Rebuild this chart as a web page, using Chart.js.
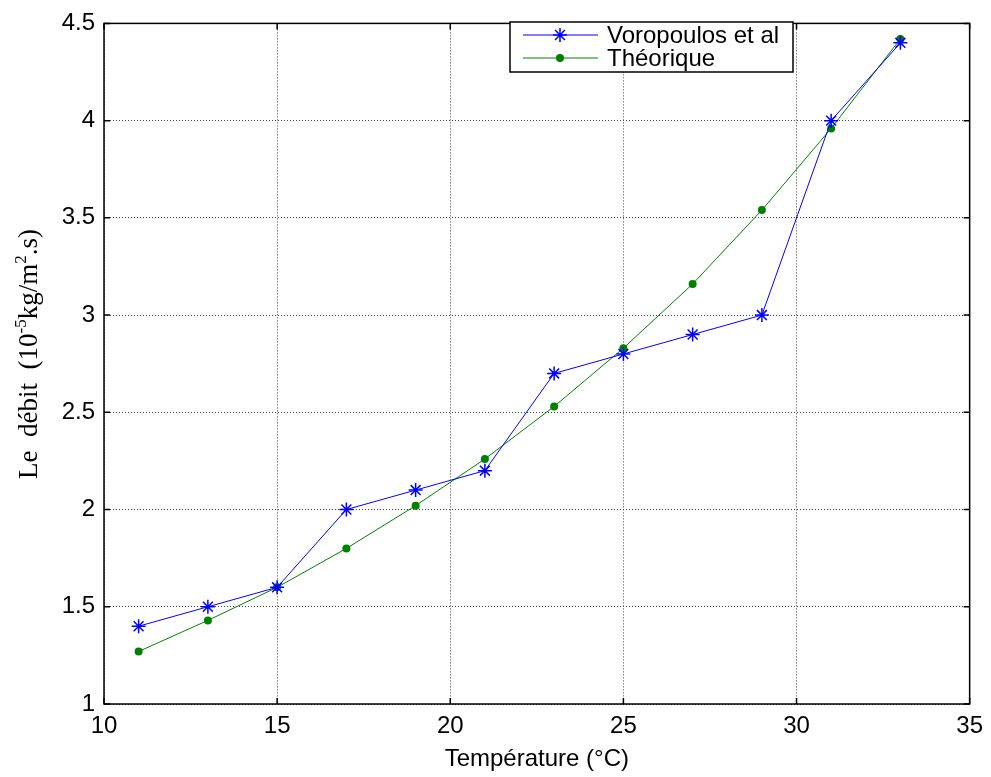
<!DOCTYPE html>
<html><head><meta charset="utf-8">
<script src="https://cdn.jsdelivr.net/npm/chart.js@4/dist/chart.umd.min.js"></script>
<style>html,body{margin:0;padding:0;background:#fff;}canvas{display:block}</style>
</head><body>
<canvas id="c" width="991" height="777"></canvas>
<script>
const temperatures = [11, 13, 15, 17, 19, 21, 23, 25, 27, 29, 31, 33];
const voropoulos = [1.4, 1.5, 1.6, 2.0, 2.1, 2.2, 2.7, 2.8, 2.9, 3.0, 4.0, 4.4];
const theorique = [1.27, 1.43, 1.60, 1.80, 2.02, 2.26, 2.53, 2.83, 3.16, 3.54, 3.96, 4.42];
const xTicks = [10, 15, 20, 25, 30, 35];
const yTicks = [1, 1.5, 2, 2.5, 3, 3.5, 4, 4.5];
const seriesLabels = ['Voropoulos et al', 'Théorique'];
const xTitle = 'Température (°C)';
const yTitleParts = [['Le  débit  (10', false], ['-5', true], ['kg/m', false], ['2', true], ['.s)', false]];

const SANS = '"Liberation Sans", Arial, sans-serif';
const SERIF = '"Liberation Serif", "Times New Roman", serif';

const framePlugin = {
  id: 'frame',
  afterDraw(chart) {
    const ctx = chart.ctx;
    const a = chart.chartArea;
    const xs = chart.scales.x, ys = chart.scales.y;
    ctx.save();
    ctx.strokeStyle = '#000';
    ctx.lineWidth = 1.5;
    ctx.strokeRect(a.left, a.top, a.right - a.left, a.bottom - a.top);
    const L = 6;
    ctx.beginPath();
    xTicks.forEach(v => {
      const px = xs.getPixelForValue(v);
      ctx.moveTo(px, a.bottom); ctx.lineTo(px, a.bottom - L);
      ctx.moveTo(px, a.top); ctx.lineTo(px, a.top + L);
    });
    yTicks.forEach(v => {
      const py = ys.getPixelForValue(v);
      ctx.moveTo(a.left, py); ctx.lineTo(a.left + L, py);
      ctx.moveTo(a.right, py); ctx.lineTo(a.right - L, py);
    });
    ctx.stroke();

    // y title with superscripts
    const big = '27px ' + SERIF, small = '17px ' + SERIF;
    let total = 0;
    yTitleParts.forEach(([t, sup]) => { ctx.font = sup ? small : big; total += ctx.measureText(t).width; });
    ctx.translate(28, 354);
    ctx.rotate(-Math.PI / 2);
    ctx.fillStyle = '#000';
    ctx.textBaseline = 'alphabetic';
    ctx.textAlign = 'left';
    let x = -total / 2;
    yTitleParts.forEach(([t, sup]) => {
      ctx.font = sup ? small : big;
      ctx.fillText(t, x, sup ? -2 : 9);
      x += ctx.measureText(t).width;
    });
    ctx.restore();

    // legend
    ctx.save();
    const lx = 510, ly = 22, lw = 283, lh = 50;
    ctx.fillStyle = '#fff';
    ctx.fillRect(lx, ly, lw, lh);
    ctx.strokeStyle = '#000';
    ctx.lineWidth = 1.5;
    ctx.strokeRect(lx, ly, lw, lh);
    const rows = [35, 58];
    chart.data.datasets.forEach((ds, i) => {
      const y = rows[i];
      ctx.strokeStyle = ds.borderColor;
      ctx.lineWidth = 1;
      ctx.beginPath(); ctx.moveTo(523, y); ctx.lineTo(598, y); ctx.stroke();
      ctx.fillStyle = ds.pointBackgroundColor;
      ctx.strokeStyle = ds.pointBorderColor;
      ctx.lineWidth = 1.5;
      if (ds.pointStyle === 'circle') {
        ctx.beginPath(); ctx.arc(560, y, ds.pointRadius, 0, Math.PI * 2); ctx.fill();
      } else {
        Chart.helpers.drawPoint(ctx, { pointStyle: ds.pointStyle, radius: ds.pointRadius, borderWidth: 1.5, rotation: 0 }, 560, y);
      }
      ctx.fillStyle = '#000';
      ctx.font = '24px ' + SANS;
      ctx.textBaseline = 'middle';
      ctx.textAlign = 'left';
      ctx.fillText(ds.label, 607, y + 1);
    });
    ctx.restore();
  }
};

new Chart(document.getElementById('c'), {
  type: 'line',
  data: {
    datasets: [
      {
        label: seriesLabels[0],
        data: temperatures.map((t, i) => ({ x: t, y: voropoulos[i] })),
        borderColor: '#0000ff', backgroundColor: '#0000ff',
        pointStyle: 'star', pointRadius: 7, pointBorderWidth: 1.5,
        pointBorderColor: '#0000ff', pointBackgroundColor: '#0000ff',
        borderWidth: 1, tension: 0, fill: false
      },
      {
        label: seriesLabels[1],
        data: temperatures.map((t, i) => ({ x: t, y: theorique[i] })),
        borderColor: '#008000', backgroundColor: '#008000',
        pointStyle: 'circle', pointRadius: 4, pointBorderWidth: 0,
        pointBorderColor: '#008000', pointBackgroundColor: '#008000',
        borderWidth: 1, tension: 0, fill: false
      }
    ]
  },
  options: {
    responsive: false,
    animation: false,
    devicePixelRatio: 1,
    layout: { padding: { left: 0, top: 19, right: 20, bottom: 0 } },
    plugins: { legend: { display: false }, tooltip: { enabled: false } },
    scales: {
      x: {
        type: 'linear', min: 10, max: 35,
        afterBuildTicks: s => { s.ticks = xTicks.map(v => ({ value: v })); },
        afterFit: s => { s.height = 73; },
        grid: { color: '#444', borderDash: [1, 2], drawTicks: false, lineWidth: 1 },
        border: { display: false, dash: [1, 2] },
        ticks: { color: '#000', font: { family: SANS, size: 24 }, padding: 8, maxRotation: 0, callback: v => String(v) },
        title: { display: true, text: xTitle, color: '#000', font: { family: SANS, size: 24 }, padding: { top: 0, bottom: 3 } }
      },
      y: {
        type: 'linear', min: 1, max: 4.5,
        afterBuildTicks: s => { s.ticks = yTicks.map(v => ({ value: v })); },
        afterFit: s => { s.width = 104; },
        grid: { color: '#444', borderDash: [1, 2], drawTicks: false, lineWidth: 1 },
        border: { display: false, dash: [1, 2] },
        ticks: { color: '#000', font: { family: SANS, size: 24 }, padding: 9, callback: v => String(v) }
      }
    }
  },
  plugins: [framePlugin]
});
</script>
</body></html>
